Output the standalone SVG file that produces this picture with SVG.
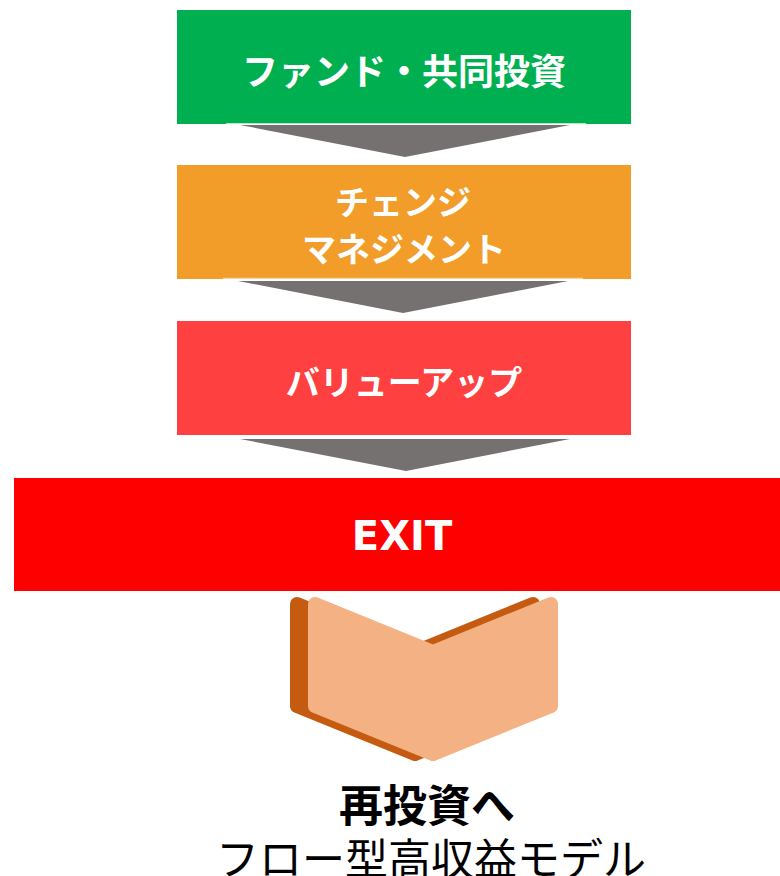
<svg xmlns="http://www.w3.org/2000/svg" width="780" height="876" viewBox="0 0 780 876">
<style>
.lbl{font-family:"Noto Sans CJK JP","Noto Sans",sans-serif;font-weight:bold;fill:#fff;text-anchor:middle;dominant-baseline:central}
.arrow{fill:#767171}
.blk{font-family:"Noto Sans CJK JP","Noto Sans",sans-serif;fill:#000;text-anchor:middle;dominant-baseline:central}
</style>
<rect width="780" height="876" fill="#fff"/>
<g id="connectors">
<polygon class="arrow" points="240,125 570,125 405,157"/>
<polygon class="arrow" points="238,281 568,281 403,313"/>
<polygon class="arrow" points="240,439 570,439 406,471"/>
</g>
<g id="fund">
<rect x="177" y="10" width="454" height="114" fill="#00B050"/>
<rect x="226" y="123" width="360" height="1.2" fill="#fff" opacity="0.7"/>
<text class="lbl" x="404" y="68.5" font-size="36">ファンド・共同投資</text>
</g>
<g id="change">
<rect x="177" y="165" width="454" height="114" fill="#F29C29"/>
<rect x="223" y="277.8" width="360" height="1.2" fill="#fff" opacity="0.6"/>
<text class="lbl" x="403" y="200" font-size="34">チェンジ</text>
<text class="lbl" x="404" y="247" font-size="34">マネジメント</text>
</g>
<g id="valueup">
<rect x="177" y="321" width="454" height="114" fill="#FF4040"/>
<text class="lbl" x="404" y="380" font-size="34">バリューアップ</text>
</g>
<g id="exit">
<rect x="14" y="478" width="766" height="113" fill="#FF0000"/>
<text x="402" y="550" font-family="DejaVu Sans, sans-serif" font-weight="bold" font-size="40" fill="#fff" text-anchor="middle">EXIT</text>
</g>
<g id="reinvest">
<g transform="translate(-18,0)">
<polygon points="315,604 433,652 551,604 551,706 433,754 315,706" fill="#C55A11" stroke="#C55A11" stroke-width="14" stroke-linejoin="round"/>
</g>
<polygon points="315,604 433,652 551,604 551,706 433,754 315,706" fill="#F4B183" stroke="#F4B183" stroke-width="14" stroke-linejoin="round"/>
</g>
<g id="caption">
<text class="blk" x="427" y="803" font-size="44" font-weight="bold">再投資へ</text>
<text class="blk" x="431" y="856" font-size="43">フロー型高収益モデル</text>
</g>
</svg>
